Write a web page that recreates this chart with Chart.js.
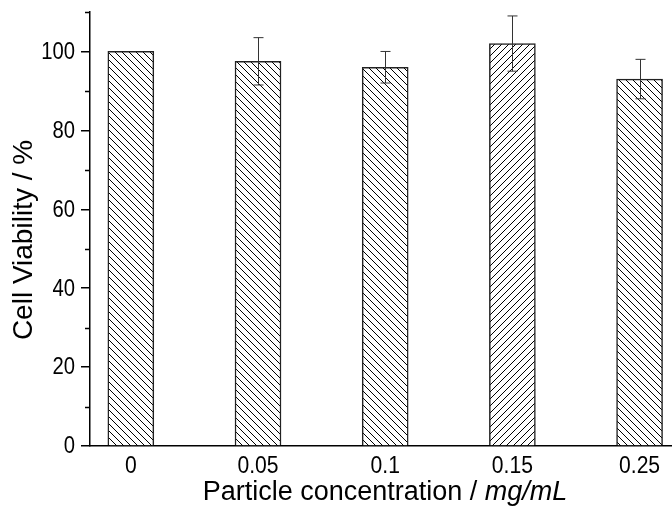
<!DOCTYPE html>
<html>
<head>
<meta charset="utf-8">
<script src="https://cdn.jsdelivr.net/npm/chart.js@4"></script>
<style>
  html, body { margin: 0; padding: 0; background: #fff; }
  #wrap { width: 672px; height: 508px; }
</style>
</head>
<body>
<div id="wrap"><canvas id="chart"></canvas></div>
<script>
// data
const LABELS = ["0", "0.05", "0.1", "0.15", "0.25"];
const VALUES = [100, 97.5, 96, 102, 93];
const ERRORS = [0, 6, 4, 7, 5];
const Y_TICKS = [0, 20, 40, 60, 80, 100];
const Y_MINOR = [10, 30, 50, 70, 90, 110];
const HATCH = ["\\", "\\", "\\", "/", "\\"];

const FONT = "'Liberation Sans', Arial, sans-serif";
const SQUEEZE = 0.88; // the original tick digits are a little condensed

function hatch(dir) {
  const s = 7, c = document.createElement("canvas");
  c.width = s; c.height = s;
  const g = c.getContext("2d");
  g.fillStyle = "#fff"; g.fillRect(0, 0, s, s);
  g.strokeStyle = "#000"; g.lineWidth = 1;
  g.beginPath();
  for (const k of [-s, 0, s]) {
    if (dir === "/") { g.moveTo(k, s); g.lineTo(k + s, 0); }
    else { g.moveTo(k, 0); g.lineTo(k + s, s); }
  }
  g.stroke();
  return g.createPattern(c, "repeat");
}

function squeezedText(ctx, txt, x, y, align) {
  ctx.save();
  ctx.translate(x, y);
  ctx.scale(SQUEEZE, 1);
  ctx.textAlign = align;
  ctx.fillText(txt, 0, 0);
  ctx.restore();
}

const extras = {
  id: "extras",
  afterDatasetsDraw(chart) {
    const { ctx, scales: { x, y } } = chart;
    ctx.save();
    ctx.strokeStyle = "#333"; ctx.lineWidth = 1;
    VALUES.forEach((v, i) => {
      if (!ERRORS[i]) return;
      const px = Math.round(x.getPixelForValue(i)) + 0.5;
      const top = y.getPixelForValue(v + ERRORS[i]), bot = y.getPixelForValue(v - ERRORS[i]);
      ctx.beginPath();
      ctx.moveTo(px, top); ctx.lineTo(px, bot);
      ctx.moveTo(px - 5, top); ctx.lineTo(px + 5, top);
      ctx.moveTo(px - 5, bot); ctx.lineTo(px + 5, bot);
      ctx.stroke();
    });
    ctx.restore();
  },
  afterDraw(chart) {
    const { ctx, scales: { x, y }, chartArea } = chart;
    ctx.save();
    // minor y ticks
    ctx.strokeStyle = "#000"; ctx.lineWidth = 1.5;
    ctx.beginPath();
    for (const t of Y_MINOR) {
      const py = Math.round(y.getPixelForValue(t)) + 0.5;
      ctx.moveTo(chartArea.left - 5, py); ctx.lineTo(chartArea.left, py);
    }
    ctx.stroke();
    ctx.fillStyle = "#000";
    // tick labels
    ctx.font = "23px " + FONT;
    ctx.textBaseline = "middle";
    for (const t of Y_TICKS) squeezedText(ctx, String(t), chartArea.left - 15, y.getPixelForValue(t) + 1, "right");
    ctx.font = "24px " + FONT;
    ctx.textBaseline = "alphabetic";
    LABELS.forEach((l, i) => squeezedText(ctx, l, x.getPixelForValue(i), chartArea.bottom + 27, "center"));
    // y title
    ctx.save();
    ctx.translate(24, 240);
    ctx.rotate(-Math.PI / 2);
    ctx.font = "28px " + FONT;
    ctx.textAlign = "center"; ctx.textBaseline = "middle";
    ctx.fillText("Cell Viability / %", 0, 0);
    ctx.restore();
    // x title with italic unit
    const a = "Particle concentration / ", b = "mg/mL";
    ctx.textAlign = "left"; ctx.textBaseline = "alphabetic";
    ctx.font = "27px " + FONT;
    const wa = ctx.measureText(a).width;
    ctx.font = "italic 27px " + FONT;
    const wb = ctx.measureText(b).width;
    const sx = 385 - (wa + wb) / 2;
    ctx.font = "27px " + FONT;
    ctx.fillText(a, sx, 500);
    ctx.font = "italic 27px " + FONT;
    ctx.fillText(b, sx + wa, 500);
    ctx.restore();
  }
};

new Chart(document.getElementById("chart"), {
  type: "bar",
  data: {
    datasets: [{
      data: VALUES.map((v, i) => ({ x: i, y: v })),
      backgroundColor: HATCH.map(hatch),
      borderColor: "#222",
      borderWidth: 1.5,
      barThickness: 46,
    }],
  },
  options: {
    responsive: true,
    maintainAspectRatio: false,
    animation: false,
    layout: { padding: { top: 12, right: 0, left: 0, bottom: 0 } },
    plugins: { legend: { display: false }, tooltip: { enabled: false } },
    scales: {
      x: {
        type: "linear",
        offset: false,
        min: -0.321, max: 4.255,
        afterBuildTicks: (s) => { s.ticks = LABELS.map((_, i) => ({ value: i })); },
        afterFit: (s) => { s.height = 62; s.paddingLeft = 0; s.paddingRight = 0; },
        grid: { display: false, drawTicks: false },
        border: { display: true, color: "#000", width: 1.5 },
        ticks: { display: false },
      },
      y: {
        min: 0, max: 110,
        afterBuildTicks: (s) => { s.ticks = Y_TICKS.map((v) => ({ value: v })); },
        afterFit: (s) => { s.width = 90; s.paddingTop = 0; s.paddingBottom = 0; },
        grid: { drawOnChartArea: false, drawTicks: true, tickLength: 9, color: "#000", lineWidth: 1.5 },
        border: { display: true, color: "#000", width: 1.5 },
        ticks: { display: false },
      },
    },
  },
  plugins: [extras],
});
</script>
</body>
</html>
